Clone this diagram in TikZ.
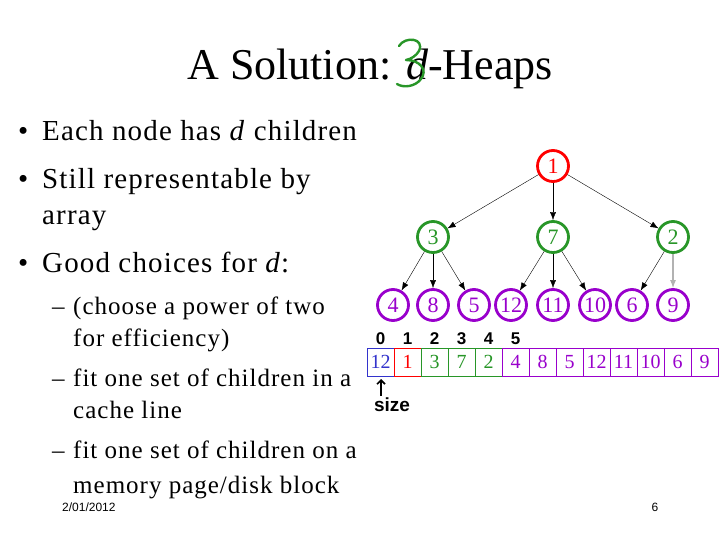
\documentclass[tikz,border=0pt]{standalone}
\usepackage{fontspec}
\setmainfont{Liberation Serif}
\newfontfamily\handfont{Liberation Sans}
\newfontfamily\spacedfont[LetterSpace=4]{Liberation Serif}
\usetikzlibrary{arrows.meta,positioning}
\definecolor{heapred}{RGB}{255,0,0}
\definecolor{heapgreen}{RGB}{40,150,40}
\definecolor{heappurple}{RGB}{153,0,204}
\definecolor{heapblue}{RGB}{51,51,204}
\tikzset{
  heapnode/.style={circle,draw,line width=2.8pt,minimum size=31pt,inner sep=0pt,font=\fontsize{22}{22}\selectfont},
  heapedge/.style={-{Latex[length=8pt,width=6pt]},thin},
  cell/.style={draw,thick,minimum width=27pt,minimum height=28pt,inner sep=0pt,font=\fontsize{20}{20}\selectfont},
  bigtext/.style={anchor=base west,inner sep=0pt,font=\spacedfont\fontsize{29}{29}\selectfont},
  subtext/.style={anchor=base west,inner sep=0pt,font=\spacedfont\fontsize{25}{25}\selectfont},
  hand/.style={inner sep=0pt,font=\handfont\bfseries\fontsize{17}{17}\selectfont}
}
\begin{document}
\begin{tikzpicture}[x=1pt,y=-1pt]
  \useasboundingbox[fill=white] (0,0) rectangle (720,540);
  % title
  \node[anchor=base,inner sep=0pt,font=\fontsize{44}{44}\selectfont] (title) at (370,80) {A Solution: \textit{d}-Heaps};
  \draw[heapgreen,line width=2.4pt,line cap=round,line join=round]
    (399,46) .. controls (405,36) and (425,38) .. (419,51) .. controls (416,56) and (411,59) .. (406,60)
    .. controls (420,60) and (428,70) .. (421,79) .. controls (415,87) and (403,88) .. (397,84);
  % bullets
  \node[bigtext] (b1) at (18,141) {\textbullet};
  \node[bigtext] (t1) at (42,141) {Each node has \textit{d} children};
  \node[bigtext] (b2) at (18,189) {\textbullet};
  \node[bigtext] (t2) at (42,189) {Still representable by};
  \node[bigtext] (t3) at (42,225) {array};
  \node[bigtext] (b3) at (18,272) {\textbullet};
  \node[bigtext] (t4) at (42,272) {Good choices for \textit{d}:};
  \node[subtext] (d1) at (52,314) {\textendash};
  \node[subtext] (t5) at (73,314) {(choose a power of two};
  \node[subtext] (t6) at (73,346) {for efficiency)};
  \node[subtext] (d2) at (52,386) {\textendash};
  \node[subtext] (t7) at (73,386) {fit one set of children in a};
  \node[subtext] (t8) at (73,418) {cache line};
  \node[subtext] (d3) at (52,458) {\textendash};
  \node[subtext] (t9) at (73,458) {fit one set of children on a};
  \node[subtext] (t10) at (73,493) {memory page/disk block};
  \node[anchor=base west,inner sep=0pt,font=\handfont\fontsize{12}{12}\selectfont] (date) at (62,511) {2/01/2012};
  \node[anchor=base,inner sep=0pt,font=\handfont\fontsize{12}{12}\selectfont] (page) at (655,511) {6};
  % tree
  \node[heapnode,heapred] (r) at (553,166) {1};
  \node[heapnode,heapgreen] (m1) at (433,237) {3};
  \node[heapnode,heapgreen] (m2) at (553,237) {7};
  \node[heapnode,heapgreen] (m3) at (673,237) {2};
  \foreach \x/\v/\n in {393/4/l1,433/8/l2,474/5/l3,511/12/l4,553/11/l5,595/10/l6,632/6/l7,673/9/l8}
    \node[heapnode,heappurple] (\n) at (\x,305) {\v};
  \foreach \c in {m1,m2,m3} \draw[heapedge] (r) -- (\c);
  \foreach \c in {l1,l2,l3} \draw[heapedge] (m1) -- (\c);
  \foreach \c in {l4,l5,l6} \draw[heapedge] (m2) -- (\c);
  \draw[heapedge] (m3) -- (l7);
  \draw[heapedge,gray!60,line width=1.2pt] (m3) -- (l8);
  % array
  \foreach \i/\v/\c in {0/12/heapblue,1/1/heapred,2/3/heapgreen,3/7/heapgreen,4/2/heapgreen,5/4/heappurple,6/8/heappurple,7/5/heappurple,8/12/heappurple,9/11/heappurple,10/10/heappurple,11/6/heappurple,12/9/heappurple}
    \node[cell,\c] (a\i) at (380.5+27*\i,362) {\v};
  \foreach \i in {0,...,5}
    \node[hand,above=3pt of a\i] (n\i) {\i};
  \node[hand,font=\handfont\bfseries\fontsize{19}{19}\selectfont] (size) at (392,405) {size};
  \coordinate (tail) at (381,396);
  \coordinate (tip) at (381,379);
  \draw[-{Straight Barb[length=4pt]},line width=1.6pt] (tail) -- (tip);
\end{tikzpicture}
\end{document}
